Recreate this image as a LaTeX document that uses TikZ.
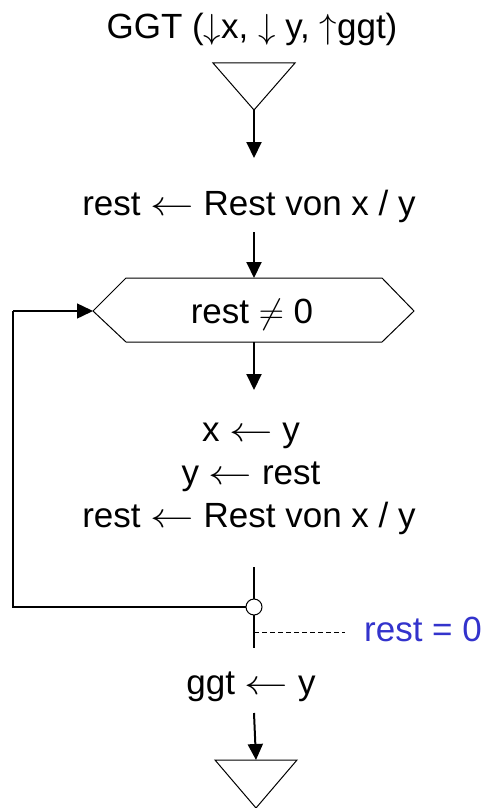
\documentclass[tikz,border=0pt]{standalone}
\usepackage{fontspec}
\usepackage{graphicx}
\setmainfont{Liberation Sans}
\usetikzlibrary{arrows.meta}
\definecolor{condblue}{RGB}{51,51,204}
\newcommand\myla{\scalebox{1.75}[1.4]{$\leftarrow$}}
\newcommand\mysym[1]{\scalebox{1.4}{$#1$}}
\begin{document}
\begin{tikzpicture}[x=1pt,y=-1pt,
  txt/.style={anchor=base,inner sep=0pt,font=\fontsize{35}{40}\selectfont},
  flow/.style={line width=2pt,-{Triangle[length=16pt,width=15pt]}},
  thinline/.style={line width=1pt},
  loopline/.style={line width=1.5pt}]
\useasboundingbox (0,0) rectangle (491,808);
% title
\node[txt] (title) at (252,39) {GGT (\mysym{\downarrow}x, \mysym{\downarrow} y, \mysym{\uparrow}ggt)};
% top triangle
\coordinate (t1l) at (213,63);
\coordinate (t1r) at (295,63);
\coordinate (t1b) at (254,110);
\draw[thinline] (t1l) -- (t1r) -- (t1b) -- cycle;
\coordinate (a1e) at (254,158);
\draw[flow] (t1b) -- (a1e);
% first statement
\node[txt] (s1) at (249,215) {rest \myla{} Rest von x / y};
\coordinate (a2s) at (254,232);
% hexagon
\coordinate (hL) at (93,311);
\coordinate (hTL) at (126,278);
\coordinate (hT) at (254,278);
\coordinate (hTR) at (382,278);
\coordinate (hR) at (414,311);
\coordinate (hBR) at (382,342);
\coordinate (hB) at (254,342);
\coordinate (hBL) at (126,342);
\draw[thinline] (hL) -- (hTL) -- (hTR) -- (hR) -- (hBR) -- (hBL) -- cycle;
\node[txt] (cond) at (252,323) {rest \mysym{\neq} 0};
\draw[flow] (a2s) -- (hT);
\coordinate (a3e) at (254,390);
\draw[flow] (hB) -- (a3e);
% body
\node[txt] (b1) at (251,441) {x \myla{} y};
\node[txt] (b2) at (251,484) {y \myla{} rest};
\node[txt] (b3) at (249,527) {rest \myla{} Rest von x / y};
% loop end
\coordinate (vt) at (254,567);
\coordinate (vb) at (254,648);
\draw[line width=2pt] (vt) -- (vb);
\node[circle,draw,line width=1pt,fill=white,minimum size=16pt,inner sep=0pt] (c) at (254,607) {};
\coordinate (lc) at (13,607);
\coordinate (lt) at (13,311);
\draw[loopline] (c.west) -- (lc) -- (lt);
\draw[flow,line width=1.5pt] (lt) -- (hL);
% exit condition
\coordinate (ds) at (254,632);
\coordinate (de) at (345,632);
\draw[line width=1pt,dash pattern=on 5pt off 3pt] (ds) -- (de);
\node[txt,anchor=base west,text=condblue] (exitc) at (364,641) {rest = 0};
% result
\node[txt] (r) at (251,694) {ggt \myla{} y};
\coordinate (a4s) at (254,713);
\coordinate (t2l) at (215,760);
\coordinate (t2t) at (256,760);
\coordinate (t2r) at (297,760);
\coordinate (t2b) at (256,808);
\draw[flow] (a4s) -- (t2t);
\draw[thinline] (t2l) -- (t2r) -- (t2b) -- cycle;
\end{tikzpicture}
\end{document}
